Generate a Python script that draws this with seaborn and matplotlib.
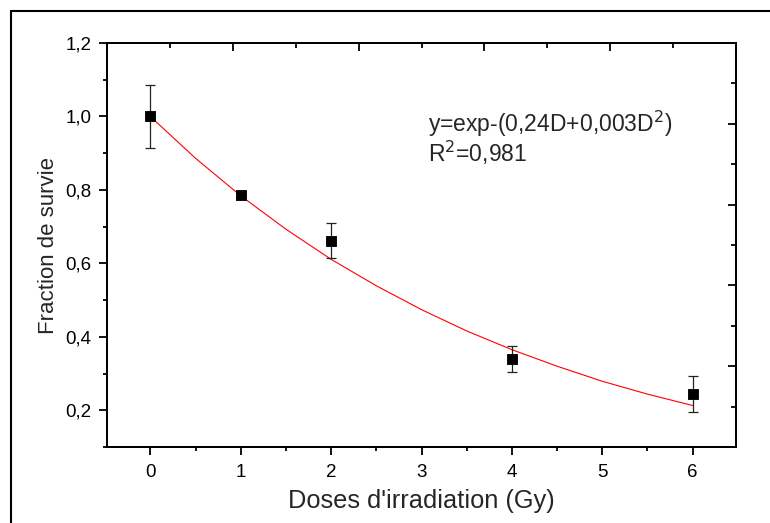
import numpy as np
import seaborn as sns
import matplotlib.pyplot as plt
from matplotlib.lines import Line2D
from matplotlib.ticker import MultipleLocator

# Measured survival fractions
doses = [0, 1, 2, 4, 6]
survie = [1.000, 0.785, 0.662, 0.339, 0.244]
erreur = [0.087, 0.005, 0.047, 0.035, 0.050]

# Fitted curve y=exp-(0,24D+0,003D^2), values read every 0.5 Gy
fit_doses = [0, 0.5, 1, 1.5, 2, 2.5, 3, 3.5, 4, 4.5, 5, 5.5, 6]
fit_survie = [1.000, 0.886, 0.784, 0.693, 0.611, 0.539, 0.474,
              0.416, 0.365, 0.320, 0.279, 0.244, 0.213]

xticks = [0, 1, 2, 3, 4, 5, 6]
yticks = [0.2, 0.4, 0.6, 0.8, 1.0, 1.2]
ytick_labels = ['0,2', '0,4', '0,6', '0,8', '1,0', '1,2']

sns.set_theme(style="ticks")
plt.rcParams['font.family'] = ['Liberation Sans', 'DejaVu Sans']

fig = plt.figure(figsize=(7.7, 5.23), dpi=100)
ax = fig.add_axes([107/770, 1-447/523, 629/770, 404/523])

sns.lineplot(x=fit_doses, y=fit_survie, ax=ax, color='red', linewidth=0.8,
             zorder=2)
ax.errorbar(doses, survie, yerr=erreur, fmt='none', ecolor='#222222',
            elinewidth=0.9, capsize=3.6, capthick=0.9, zorder=3)
sns.scatterplot(x=doses, y=survie, ax=ax, marker='s', s=62, color='black',
                edgecolor='black', zorder=4)

ax.set_xlim(-0.48, 6.48)
ax.set_ylim(0.1, 1.2)
ax.set_xticks(xticks)
ax.set_yticks(yticks)
ax.set_yticklabels(ytick_labels)
ax.xaxis.set_minor_locator(MultipleLocator(0.5))
ax.yaxis.set_minor_locator(MultipleLocator(0.1))
ax.tick_params(which='major', direction='out', length=6, width=1.3,
               labelsize=13.5, color='black', labelcolor='black')
ax.tick_params(axis='x', which='major', pad=6)
ax.tick_params(axis='y', which='major', pad=5)
ax.tick_params(which='minor', direction='out', length=3, width=1.3,
               color='black')
for s in ax.spines.values():
    s.set_linewidth(1.4)
    s.set_color('black')
    s.set_visible(True)

ax.set_xlabel("Doses d'irradiation (Gy)", fontsize=18.3, labelpad=6)
ax.set_ylabel("Fraction de survie", fontsize=16, labelpad=5)

# Origin-style top and right axes with their own ticks
axt = ax.twiny()
axt.set_xlim(0, 1)
axt.set_xticks(np.linspace(0, 1, 6))
axt.set_xticks(np.linspace(0, 1, 11), minor=True)
axt.tick_params(axis='x', which='both', direction='in', top=True,
                bottom=False, labeltop=False, width=1.3, color='black')
axt.tick_params(axis='x', which='major', length=6)
axt.tick_params(axis='x', which='minor', length=3.5)

axr = ax.twinx()
axr.set_ylim(0, 1)
axr.set_yticks(np.linspace(0, 1, 6))
axr.set_yticks(np.linspace(0, 1, 11), minor=True)
axr.tick_params(axis='y', which='both', direction='in', right=True,
                left=False, labelright=False, width=1.3, color='black')
axr.tick_params(axis='y', which='major', length=6)
axr.tick_params(axis='y', which='minor', length=3.5)
for a in (axt, axr):
    for s in a.spines.values():
        s.set_linewidth(1.4)
        s.set_color('black')

ax.text(0.51, 0.78, "y=exp-(0,24D+0,003D$^2$)", transform=ax.transAxes,
        fontsize=16.5, ha='left', va='baseline')
ax.text(0.51, 0.706, "R$^2$=0,981", transform=ax.transAxes,
        fontsize=16.5, ha='left', va='baseline')

# outer frame
fig.add_artist(Line2D([11/770, 11/770], [0, 1-11/523], color='black',
                      linewidth=1.5, transform=fig.transFigure))
fig.add_artist(Line2D([11/770, 1], [1-11/523, 1-11/523], color='black',
                      linewidth=1.5, transform=fig.transFigure))

fig.savefig('out.png', dpi=100)
